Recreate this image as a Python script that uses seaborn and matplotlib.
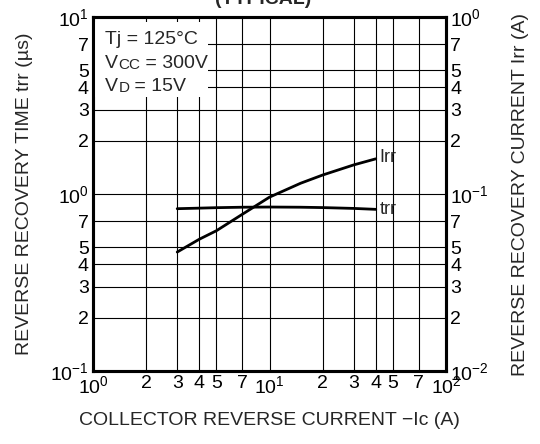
import numpy as np
import pandas as pd
import matplotlib
matplotlib.use("Agg")
import matplotlib.pyplot as plt
from matplotlib.ticker import FixedLocator, FixedFormatter, NullLocator
import seaborn as sns

# collector reverse current -Ic (A)
ic = [3, 4, 5, 7, 10, 15, 20, 30, 40]
# reverse recovery time trr (us), left axis
trr = [0.826, 0.832, 0.837, 0.842, 0.844, 0.842, 0.838, 0.829, 0.819]
# reverse recovery current Irr (A), right axis
irr = [0.047, 0.0555, 0.062, 0.0767, 0.096, 0.115, 0.128, 0.146, 0.158]

x_ticks = [1, 2, 3, 4, 5, 7, 10, 20, 30, 40, 50, 70, 100]
x_labels = ["$\\mathregular{10^{0}}$", "2", "3", "4", "5", "7", "$\\mathregular{10^{1}}$",
            "2", "3", "4", "5", "7", "$\\mathregular{10^{2}}$"]
yl_ticks = [0.1, 0.2, 0.3, 0.4, 0.5, 0.7, 1, 2, 3, 4, 5, 7, 10]
yl_labels = ["$\\mathregular{10^{−1}}$", "2", "3", "4", "5", "7", "$\\mathregular{10^{0}}$",
             "2", "3", "4", "5", "7", "$\\mathregular{10^{1}}$"]
yr_ticks = [0.01, 0.02, 0.03, 0.04, 0.05, 0.07, 0.1, 0.2, 0.3, 0.4, 0.5, 0.7, 1]
yr_labels = ["$\\mathregular{10^{−2}}$", "2", "3", "4", "5", "7", "$\\mathregular{10^{−1}}$",
             "2", "3", "4", "5", "7", "$\\mathregular{10^{0}}$"]

sns.set_theme(style="white")
plt.rcParams["font.family"] = ["Liberation Sans", "DejaVu Sans"]
plt.rcParams["mathtext.fontset"] = "custom"
plt.rcParams["mathtext.rm"] = "Liberation Sans"

df = pd.DataFrame({"ic": ic, "trr": trr, "irr": irr})

fig = plt.figure(figsize=(5.4, 4.44), dpi=100)
fig.subplots_adjust(left=93 / 540, right=446 / 540, top=1 - 17 / 444, bottom=1 - 371 / 444)
ax = fig.add_subplot(111)
ax2 = ax.twinx()

for a in (ax, ax2):
    a.set_xscale("log")
    a.set_yscale("log")
    a.set_xlim(1, 100)

ax.set_ylim(0.1, 10)
ax2.set_ylim(0.01, 1)

sns.lineplot(data=df, x="ic", y="trr", ax=ax, color="black", lw=2)
sns.lineplot(data=df, x="ic", y="irr", ax=ax2, color="black", lw=2)

fs = 14
ax.xaxis.set_major_locator(FixedLocator(x_ticks))
ax.xaxis.set_major_formatter(FixedFormatter(x_labels))
ax.xaxis.set_minor_locator(NullLocator())
ax.yaxis.set_major_locator(FixedLocator(yl_ticks))
ax.yaxis.set_major_formatter(FixedFormatter(yl_labels))
ax.yaxis.set_minor_locator(NullLocator())
ax2.yaxis.set_major_locator(FixedLocator(yr_ticks))
ax2.yaxis.set_major_formatter(FixedFormatter(yr_labels))
ax2.yaxis.set_minor_locator(NullLocator())

ax.tick_params(axis="x", length=0, labelsize=fs, colors="black", pad=3)
ax.tick_params(axis="y", length=0, labelsize=fs, colors="black", pad=3)
ax2.tick_params(axis="y", length=0, labelsize=fs, colors="black", pad=3)
ax.grid(True, which="major", color="black", lw=0.8)
for a in (ax, ax2):
    for s in a.spines.values():
        s.set_linewidth(2.2)
        s.set_color("black")

ax.set_xlabel("COLLECTOR REVERSE CURRENT −Ic (A)", fontsize=fs, labelpad=11)
ax.set_ylabel("REVERSE RECOVERY TIME trr (µs)", fontsize=fs, labelpad=12)
ax2.set_ylabel("REVERSE RECOVERY CURRENT Irr (A)", fontsize=fs, labelpad=17)

# curve labels
ax2.text(42, 0.16, "Irr", fontsize=fs - 1, va="center", ha="left")
ax.text(42, 0.82, "trr", fontsize=fs - 1, va="center", ha="left")

# condition box
ax.add_patch(plt.Rectangle((0.0, 0.775), 0.325, 0.21, transform=ax.transAxes,
                           facecolor="white", edgecolor="none", zorder=3))


def put(parts, y):
    prev = ax.text(0.035, y, parts[0][0], fontsize=parts[0][1], transform=ax.transAxes,
                   va="bottom", ha="left", zorder=4)
    for s, size in parts[1:]:
        prev = ax.annotate(s, xy=(1, 0), xycoords=prev, fontsize=size,
                           va="bottom", ha="left", zorder=4)


put([("Tj = 125°C", fs)], 0.912)
put([("V", fs), ("CC", fs - 3), (" = 300V", fs)], 0.846)
put([("V", fs), ("D", fs - 3), (" = 15V", fs)], 0.780)

fig.text(263 / 540, 1 - 4 / 444, "(TYPICAL)", fontsize=14, fontweight="bold",
         ha="center", va="baseline")

fig.savefig("out.png", dpi=100)
